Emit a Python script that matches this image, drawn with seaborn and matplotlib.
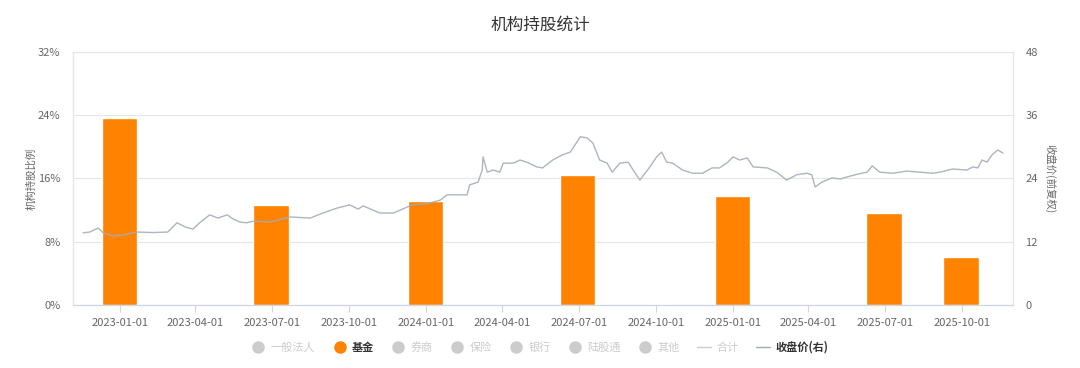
import pandas as pd
import matplotlib.pyplot as plt
import matplotlib.dates as mdates
from matplotlib.ticker import PercentFormatter, MultipleLocator
from matplotlib.lines import Line2D
import seaborn as sns

# 基金持股比例 (%) by report date
report_dates = ["2022-12-31", "2023-06-30", "2023-12-31", "2024-06-30",
                "2024-12-31", "2025-06-30", "2025-09-30"]
fund_pct = [23.7, 12.6, 13.2, 16.4, 13.8, 11.7, 6.1]

# 收盘价(前复权)
price_dates = [
    "2022-11-18", "2022-11-26", "2022-12-06", "2022-12-12", "2022-12-24",
    "2023-01-05", "2023-01-21", "2023-02-09", "2023-02-27", "2023-03-10",
    "2023-03-20", "2023-03-29", "2023-04-06", "2023-04-18", "2023-04-28",
    "2023-05-09", "2023-05-16", "2023-05-24", "2023-06-01", "2023-06-09",
    "2023-06-29", "2023-07-23", "2023-08-16", "2023-08-31", "2023-09-17",
    "2023-10-02", "2023-10-12", "2023-10-18", "2023-11-07", "2023-11-23",
    "2023-12-04", "2023-12-16", "2024-01-02", "2024-01-18", "2024-01-26",
    "2024-02-02", "2024-02-19", "2024-02-22", "2024-03-03", "2024-03-08",
    "2024-03-09", "2024-03-14", "2024-03-21", "2024-03-29", "2024-04-02",
    "2024-04-14", "2024-04-22", "2024-04-30", "2024-05-12", "2024-05-19",
    "2024-05-31", "2024-06-12", "2024-06-21", "2024-07-03", "2024-07-11",
    "2024-07-18", "2024-07-26", "2024-08-04", "2024-08-10", "2024-08-19",
    "2024-08-29", "2024-09-04", "2024-09-12", "2024-09-24", "2024-10-02",
    "2024-10-08", "2024-10-14", "2024-10-21", "2024-11-02", "2024-11-14",
    "2024-11-26", "2024-12-07", "2024-12-16", "2024-12-26", "2025-01-01",
    "2025-01-09", "2025-01-18", "2025-01-25", "2025-02-11", "2025-02-22",
    "2025-03-06", "2025-03-18", "2025-03-30", "2025-04-05", "2025-04-09",
    "2025-04-17", "2025-04-29", "2025-05-09", "2025-05-17", "2025-06-01",
    "2025-06-10", "2025-06-16", "2025-06-25", "2025-07-11", "2025-07-27",
    "2025-08-12", "2025-08-27", "2025-09-05", "2025-09-20", "2025-10-07",
    "2025-10-14", "2025-10-20", "2025-10-25", "2025-10-31", "2025-11-06",
    "2025-11-13", "2025-11-19",
]
price_close = [
    13.7, 13.85, 14.6, 13.7, 13.1,
    13.3, 13.85, 13.75, 13.85, 15.6,
    14.8, 14.4, 15.6, 17.1, 16.5,
    17.1, 16.3, 15.75, 15.6, 15.9,
    15.75, 16.7, 16.5, 17.45, 18.4,
    19.0, 18.2, 18.8, 17.45, 17.45,
    18.2, 19.0, 19.2, 19.9, 20.9,
    20.9, 20.9, 22.8, 23.3, 25.6,
    28.1, 25.2, 25.6, 25.2, 26.9,
    26.9, 27.5, 27.1, 26.2, 26.0,
    27.5, 28.5, 29.0, 31.9, 31.7,
    30.7, 27.5, 26.9, 25.2, 26.9,
    27.1, 25.6, 23.7, 26.2, 28.1,
    29.0, 27.1, 26.9, 25.6, 25.0,
    25.0, 26.0, 26.0, 27.1, 28.1,
    27.5, 27.9, 26.2, 26.0, 25.2,
    23.7, 24.7, 25.0, 24.7, 22.4,
    23.3, 24.1, 23.9, 24.3, 24.9,
    25.2, 26.4, 25.2, 25.0, 25.4,
    25.2, 25.0, 25.2, 25.8, 25.6,
    26.2, 26.0, 27.5, 27.1, 28.5,
    29.4, 28.8,
]

legend_labels = ["一般法人", "基金", "券商", "保险", "银行", "陆股通", "其他", "合计", "收盘价(右)"]

sns.set_theme(style="white")
plt.rcParams["font.family"] = ["Noto Sans CJK SC", "DejaVu Sans"]

orange = "#ff8200"
line_c = "#a3adb9"
grid_c = "#e6e6e6"
tick_c = "#666666"

fig = plt.figure(figsize=(10.8, 3.68), dpi=100)
ax = fig.add_axes([0.0676, 0.171, 0.8704, 0.688])

ax.bar(pd.to_datetime(report_dates), fund_pct, width=42, color=orange, zorder=2)
ax.set_ylim(0, 32)
ax.yaxis.set_major_locator(MultipleLocator(8))
ax.yaxis.set_major_formatter(PercentFormatter(xmax=100, decimals=0))
ax.grid(axis="y", color=grid_c, linewidth=0.8, zorder=0)
ax.set_axisbelow(True)
ax.set_xlim(pd.Timestamp("2022-11-06"), pd.Timestamp("2025-12-01"))
ax.xaxis.set_major_locator(mdates.MonthLocator(bymonth=[1, 4, 7, 10]))
ax.xaxis.set_major_formatter(mdates.DateFormatter("%Y-%m-%d"))
ax.tick_params(axis="x", colors=tick_c, labelsize=8, length=5, width=0.8,
               color="#ccd6eb", pad=4, bottom=True)
ax.tick_params(axis="y", colors=tick_c, labelsize=8, length=0, pad=9)
ax.set_ylabel("机构持股比例", fontsize=7.5, color=tick_c)
ax.yaxis.set_label_coords(-0.039, 0.5)

ax2 = ax.twinx()
sns.lineplot(x=pd.to_datetime(price_dates), y=price_close, ax=ax2,
             color=line_c, linewidth=1, alpha=0.9)
ax2.set_ylim(0, 48)
ax2.yaxis.set_major_locator(MultipleLocator(12))
ax2.tick_params(axis="y", colors=tick_c, labelsize=8, length=0, pad=9)
ax2.set_ylabel("收盘价(前复权)", fontsize=7.5, color=tick_c, rotation=270, va="center")
ax2.yaxis.set_label_coords(1.039, 0.5)

for a in (ax, ax2):
    for s in ("left", "right", "top"):
        a.spines[s].set_color(grid_c)
        a.spines[s].set_linewidth(0.8)
    a.spines["bottom"].set_color("#ccd6eb")
    a.spines["bottom"].set_linewidth(0.8)
ax2.spines["top"].set_visible(False)

fig.suptitle("机构持股统计", x=0.5, y=0.955, fontsize=12, color="#333333")

# legend: only 基金 and 收盘价(右) are active
inactive = "#cccccc"
handles = []
for lab in legend_labels:
    if lab == "基金":
        handles.append(Line2D([], [], marker="o", linestyle="none", color=orange, markersize=8))
    elif lab == "合计":
        handles.append(Line2D([], [], color=inactive, linewidth=1))
    elif lab == "收盘价(右)":
        handles.append(Line2D([], [], color=line_c, linewidth=1))
    else:
        handles.append(Line2D([], [], marker="o", linestyle="none", color=inactive, markersize=8))
leg = fig.legend(handles, legend_labels, loc="center", bbox_to_anchor=(0.5, 0.057),
                 ncol=len(legend_labels), frameon=False, fontsize=8,
                 handlelength=1.2, handletextpad=0.5, columnspacing=1.6)
for txt in leg.get_texts():
    if txt.get_text() in ("基金", "收盘价(右)"):
        txt.set_color("#333333")
        txt.set_fontweight("bold")
    else:
        txt.set_color(inactive)

fig.savefig("out.png", dpi=100)
